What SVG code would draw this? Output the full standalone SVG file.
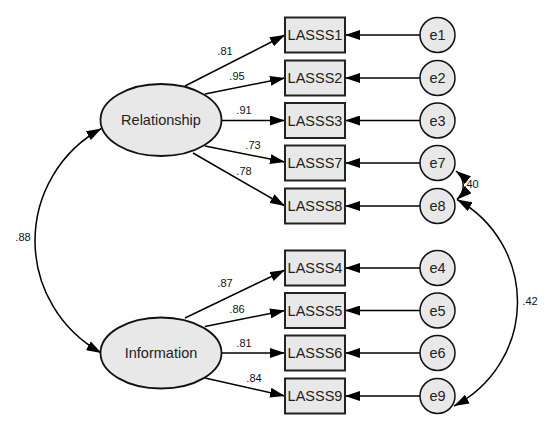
<svg xmlns="http://www.w3.org/2000/svg" width="551" height="439" viewBox="0 0 551 439">
<defs>
<marker id="ah" markerUnits="userSpaceOnUse" viewBox="0 0 15 10" refX="15" refY="5" markerWidth="15" markerHeight="10" orient="auto-start-reverse">
<path d="M0,0 L15,5 L0,10 z" fill="#000"/>
</marker>
<style>
.box{fill:#e8e8e8;stroke:#222;stroke-width:2}
.lat{fill:#e8e8e8;stroke:#111;stroke-width:1.8}
.err{fill:#e8e8e8;stroke:#111;stroke-width:1.5}
.t{font-family:"Liberation Sans",Arial,sans-serif;font-size:14.5px;fill:#222;text-anchor:middle}
.n{font-family:"Liberation Sans",Arial,sans-serif;font-size:11px;fill:#111;text-anchor:middle}
.c{fill:none;stroke:#000;stroke-width:1.5;marker-end:url(#ah)}
.cc{fill:none;stroke:#000;stroke-width:1.5;marker-end:url(#ah);marker-start:url(#ah)}
</style>
</defs>
<rect width="551" height="439" fill="#fff"/>
<g id="connectors">
<path class="c" d="M185,86 L285,35"/>
<path class="c" d="M205,94 L285,78"/>
<path class="c" d="M222,120.5 L285,120.5"/>
<path class="c" d="M205,146 L285,162"/>
<path class="c" d="M193,153 L285,206"/>
<path class="c" d="M185,318 L285,270"/>
<path class="c" d="M205,326.5 L285,310.5"/>
<path class="c" d="M222,353 L285,353"/>
<path class="c" d="M205,378 L285,396"/>
<path class="c" d="M420,35 L345,35"/>
<path class="c" d="M420,78 L345,78"/>
<path class="c" d="M420,120.5 L345,120.5"/>
<path class="c" d="M420,163 L345,163"/>
<path class="c" d="M420,206 L345,206"/>
<path class="c" d="M420,268 L345,268"/>
<path class="c" d="M420,310.5 L345,310.5"/>
<path class="c" d="M420,353 L345,353"/>
<path class="c" d="M420,396 L345,396"/>
<path class="cc" d="M101.5,128.5 A128,128 0 0 0 101.5,353"/>
<path class="cc" d="M456,171 A18.5,18.5 0 0 1 457,199.5"/>
<path class="cc" d="M457,199.5 A117,117 0 0 1 454,406"/>
<text class="n" x="225" y="55">.81</text>
<text class="n" x="237" y="80">.95</text>
<text class="n" x="244" y="114">.91</text>
<text class="n" x="253" y="149">.73</text>
<text class="n" x="244" y="175">.78</text>
<text class="n" x="225" y="287">.87</text>
<text class="n" x="237" y="313">.86</text>
<text class="n" x="244" y="347">.81</text>
<text class="n" x="254" y="382">.84</text>
<text class="n" x="23" y="241">.88</text>
<text class="n" x="471" y="188">.40</text>
<text class="n" x="530" y="305">.42</text>
</g>
<g id="Relationship"><ellipse class="lat" cx="161" cy="120" rx="60.5" ry="36"/><text class="t" x="161" y="125">Relationship</text></g>
<g id="Information"><ellipse class="lat" cx="161" cy="353" rx="60.5" ry="35.5"/><text class="t" x="161" y="358">Information</text></g>
<g id="LASSS1"><rect class="box" x="285" y="17.5" width="60" height="35"/><text class="t" x="315" y="40">LASSS1</text></g>
<g id="LASSS2"><rect class="box" x="285" y="60.5" width="60" height="35"/><text class="t" x="315" y="83">LASSS2</text></g>
<g id="LASSS3"><rect class="box" x="285" y="103" width="60" height="35"/><text class="t" x="315" y="125.5">LASSS3</text></g>
<g id="LASSS7"><rect class="box" x="285" y="145.5" width="60" height="35"/><text class="t" x="315" y="168">LASSS7</text></g>
<g id="LASSS8"><rect class="box" x="285" y="188.5" width="60" height="35"/><text class="t" x="315" y="211">LASSS8</text></g>
<g id="LASSS4"><rect class="box" x="285" y="250.5" width="60" height="35"/><text class="t" x="315" y="273">LASSS4</text></g>
<g id="LASSS5"><rect class="box" x="285" y="293" width="60" height="35"/><text class="t" x="315" y="315.5">LASSS5</text></g>
<g id="LASSS6"><rect class="box" x="285" y="335.5" width="60" height="35"/><text class="t" x="315" y="358">LASSS6</text></g>
<g id="LASSS9"><rect class="box" x="285" y="378.5" width="60" height="35"/><text class="t" x="315" y="401">LASSS9</text></g>
<g id="e1"><circle class="err" cx="437.5" cy="35" r="17.5"/><text class="t" x="437.5" y="40">e1</text></g>
<g id="e2"><circle class="err" cx="437.5" cy="78" r="17.5"/><text class="t" x="437.5" y="83">e2</text></g>
<g id="e3"><circle class="err" cx="437.5" cy="120.5" r="17.5"/><text class="t" x="437.5" y="125.5">e3</text></g>
<g id="e7"><circle class="err" cx="437.5" cy="163" r="17.5"/><text class="t" x="437.5" y="168">e7</text></g>
<g id="e8"><circle class="err" cx="437.5" cy="206" r="17.5"/><text class="t" x="437.5" y="211">e8</text></g>
<g id="e4"><circle class="err" cx="437.5" cy="268" r="17.5"/><text class="t" x="437.5" y="273">e4</text></g>
<g id="e5"><circle class="err" cx="437.5" cy="310.5" r="17.5"/><text class="t" x="437.5" y="315.5">e5</text></g>
<g id="e6"><circle class="err" cx="437.5" cy="353" r="17.5"/><text class="t" x="437.5" y="358">e6</text></g>
<g id="e9"><circle class="err" cx="437.5" cy="396" r="17.5"/><text class="t" x="437.5" y="401">e9</text></g>
</svg>
